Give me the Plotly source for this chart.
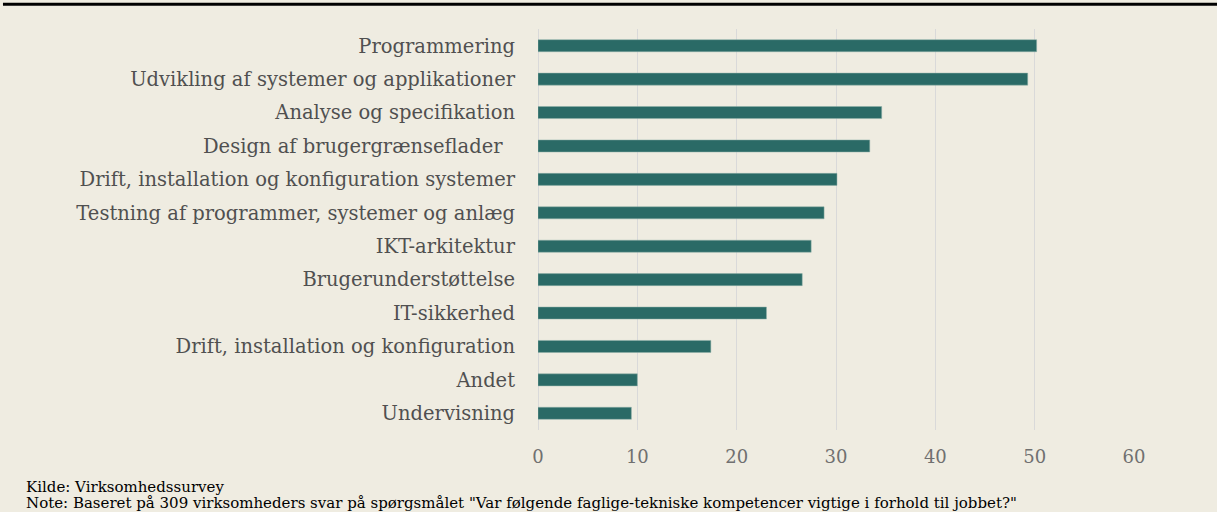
import plotly.graph_objects as go

# Data (top to bottom as in the reference)
categories = [
    "Programmering",
    "Udvikling af systemer og applikationer",
    "Analyse og specifikation",
    "Design af brugergrænseflader\u00a0\u00a0",
    "Drift, installation og konfiguration systemer",
    "Testning af programmer, systemer og anlæg",
    "IKT-arkitektur",
    "Brugerunderstøttelse",
    "IT-sikkerhed",
    "Drift, installation og konfiguration",
    "Andet",
    "Undervisning",
]
values = [50.2, 49.3, 34.6, 33.4, 30.1, 28.8, 27.5, 26.6, 23.0, 17.4, 10.0, 9.4]
x_ticks = [0, 10, 20, 30, 40, 50, 60]

source_text = "Kilde: Virksomhedssurvey"
note_text = ('Note: Baseret på 309 virksomheders svar på spørgsmålet '
             '"Var følgende faglige-tekniske kompetencer vigtige i forhold til jobbet?"')

bg = "#EFECE1"
bar_color = "#2A6A66"
font_family = "DejaVu Serif"

fig = go.Figure()
fig.add_trace(go.Bar(
    x=values,
    y=categories,
    orientation="h",
    marker=dict(color=bar_color, line=dict(color="#8FB0A9", width=0.5)),
    width=0.36,
))

fig.update_layout(
    width=1217,
    height=512,
    paper_bgcolor=bg,
    plot_bgcolor=bg,
    margin=dict(l=538, r=83, t=29, b=82),
    showlegend=False,
    font=dict(family=font_family, size=17, color="#595959"),
    xaxis=dict(
        range=[0, 60],
        tickvals=x_ticks,
        showgrid=True,
        gridcolor="#D9D9D9",
        gridwidth=1,
        zeroline=True,
        zerolinecolor="#D9D9D9",
        zerolinewidth=1,
        showline=False,
        ticks="",
        ticklabelstandoff=14,
        tickfont=dict(family=font_family, size=18, color="#707070"),
    ),
    yaxis=dict(
        categoryorder="array",
        categoryarray=categories[::-1],
        showgrid=False,
        ticks="",
        ticklabelstandoff=22,
        tickfont=dict(family=font_family, size=19.5, color="#505050"),
    ),
    shapes=[
        # thick rule along the top of the figure
        dict(type="line", xref="paper", yref="paper",
             x0=-0.8977, x1=1.15, y0=1.062, y1=1.062,
             line=dict(color="black", width=3)),
    ],
    annotations=[
        dict(text=source_text, xref="paper", yref="paper",
             x=-0.8624, y=-0.143, xanchor="left", yanchor="middle",
             showarrow=False,
             font=dict(family=font_family, size=15, color="black")),
        dict(text=note_text, xref="paper", yref="paper",
             x=-0.8624, y=-0.181, xanchor="left", yanchor="middle",
             showarrow=False,
             font=dict(family=font_family, size=15, color="black")),
    ],
)

# drop the default page margin so the figure fills the window
fig.write_html("out.html", config={"displayModeBar": False},
               post_script="document.body.style.margin='0';")
